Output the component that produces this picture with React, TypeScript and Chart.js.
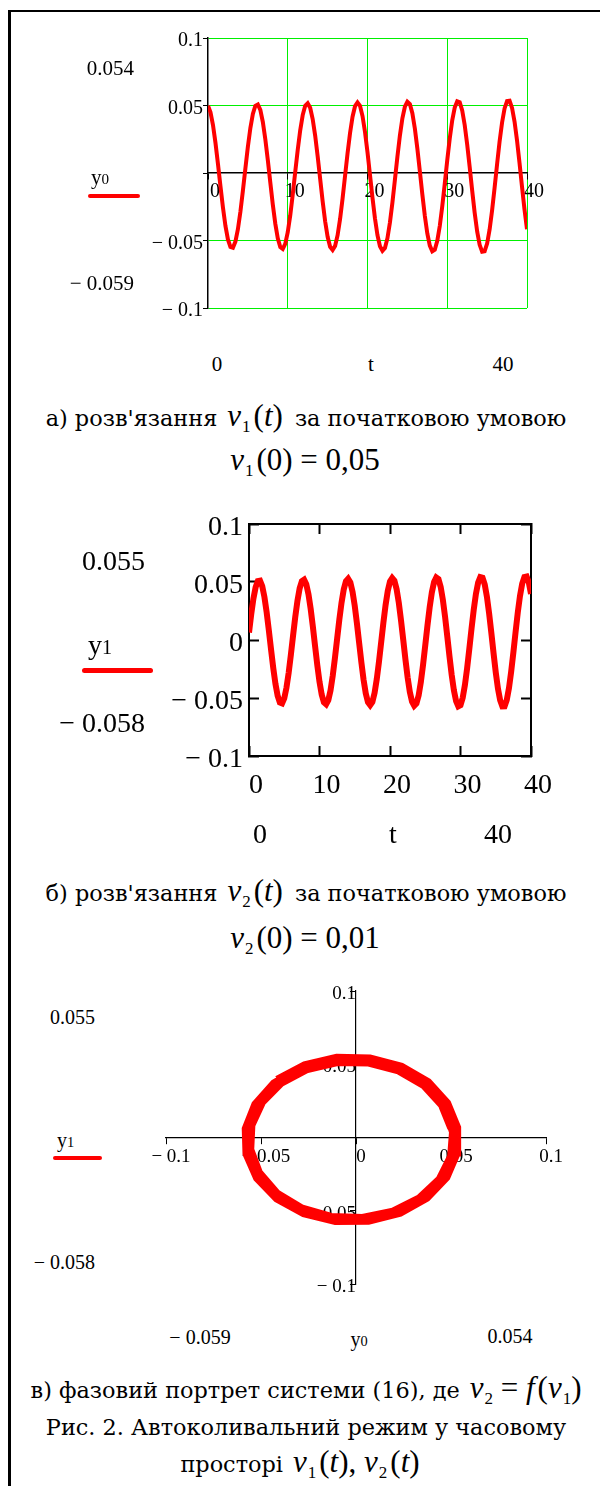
import React, { useEffect, useRef } from 'react';
import { Chart, registerables } from 'chart.js';

Chart.register(...registerables);

// time samples (s)
const T = [
  0, 0.3125, 0.625, 0.9375, 1.25, 1.5625, 1.875, 2.1875, 2.5, 2.8125,
  3.125, 3.4375, 3.75, 4.0625, 4.375, 4.6875, 5, 5.3125, 5.625, 5.9375,
  6.25, 6.5625, 6.875, 7.1875, 7.5, 7.8125, 8.125, 8.4375, 8.75, 9.0625,
  9.375, 9.6875, 10, 10.3125, 10.625, 10.9375, 11.25, 11.5625, 11.875, 12.1875,
  12.5, 12.8125, 13.125, 13.4375, 13.75, 14.0625, 14.375, 14.6875, 15, 15.3125,
  15.625, 15.9375, 16.25, 16.5625, 16.875, 17.1875, 17.5, 17.8125, 18.125, 18.4375,
  18.75, 19.0625, 19.375, 19.6875, 20, 20.3125, 20.625, 20.9375, 21.25, 21.5625,
  21.875, 22.1875, 22.5, 22.8125, 23.125, 23.4375, 23.75, 24.0625, 24.375, 24.6875,
  25, 25.3125, 25.625, 25.9375, 26.25, 26.5625, 26.875, 27.1875, 27.5, 27.8125,
  28.125, 28.4375, 28.75, 29.0625, 29.375, 29.6875, 30, 30.3125, 30.625, 30.9375,
  31.25, 31.5625, 31.875, 32.1875, 32.5, 32.8125, 33.125, 33.4375, 33.75, 34.0625,
  34.375, 34.6875, 35, 35.3125, 35.625, 35.9375, 36.25, 36.5625, 36.875, 37.1875,
  37.5, 37.8125, 38.125, 38.4375, 38.75, 39.0625, 39.375, 39.6875, 40,
];

// y0 = v1(t)
const Y0 = [
  0.0499, 0.0450, 0.0355, 0.0223, 0.0067, -0.0098, -0.0256, -0.0392, -0.0492, -0.0548,
  -0.0554, -0.0508, -0.0416, -0.0287, -0.0131, 0.0034, 0.0194, 0.0333, 0.0438, 0.0498,
  0.0508, 0.0467, 0.0378, 0.0250, 0.0096, -0.0071, -0.0233, -0.0375, -0.0484, -0.0548,
  -0.0562, -0.0525, -0.0439, -0.0314, -0.0160, 0.0007, 0.0171, 0.0316, 0.0429, 0.0498,
  0.0516, 0.0483, 0.0400, 0.0277, 0.0124, -0.0043, -0.0209, -0.0357, -0.0473, -0.0547,
  -0.0570, -0.0540, -0.0461, -0.0340, -0.0189, -0.0021, 0.0146, 0.0297, 0.0417, 0.0495,
  0.0523, 0.0498, 0.0422, 0.0304, 0.0153, -0.0015, -0.0184, -0.0337, -0.0461, -0.0543,
  -0.0576, -0.0555, -0.0483, -0.0367, -0.0218, -0.0050, 0.0121, 0.0277, 0.0405, 0.0491,
  0.0528, 0.0511, 0.0443, 0.0330, 0.0182, 0.0014, -0.0157, -0.0317, -0.0448, -0.0538,
  -0.0580, -0.0568, -0.0503, -0.0393, -0.0247, -0.0079, 0.0094, 0.0256, 0.0390, 0.0485,
  0.0531, 0.0524, 0.0463, 0.0356, 0.0211, 0.0044, -0.0130, -0.0294, -0.0433, -0.0532,
  -0.0583, -0.0579, -0.0523, -0.0418, -0.0276, -0.0109, 0.0066, 0.0233, 0.0374, 0.0478,
  0.0533, 0.0535, 0.0482, 0.0381, 0.0240, 0.0074, -0.0102, -0.0271, -0.0416,
];

// y1 = v2(t)
const Y1 = [
  0.0064, 0.0221, 0.0356, 0.0454, 0.0508, 0.0512, 0.0464, 0.0371, 0.0240, 0.0084,
  -0.0081, -0.0240, -0.0378, -0.0480, -0.0539, -0.0546, -0.0503, -0.0412, -0.0283, -0.0129,
  0.0037, 0.0199, 0.0339, 0.0446, 0.0508, 0.0520, 0.0481, 0.0394, 0.0267, 0.0113,
  -0.0054, -0.0217, -0.0361, -0.0471, -0.0538, -0.0554, -0.0519, -0.0435, -0.0310, -0.0157,
  0.0010, 0.0175, 0.0322, 0.0436, 0.0507, 0.0528, 0.0497, 0.0416, 0.0294, 0.0142,
  -0.0026, -0.0192, -0.0342, -0.0460, -0.0536, -0.0561, -0.0534, -0.0457, -0.0337, -0.0186,
  -0.0018, 0.0150, 0.0302, 0.0424, 0.0504, 0.0534, 0.0511, 0.0438, 0.0320, 0.0170,
  0.0003, -0.0167, -0.0322, -0.0448, -0.0532, -0.0567, -0.0548, -0.0478, -0.0363, -0.0215,
  -0.0047, 0.0124, 0.0282, 0.0411, 0.0500, 0.0539, 0.0525, 0.0458, 0.0346, 0.0199,
  0.0032, -0.0141, -0.0301, -0.0434, -0.0527, -0.0571, -0.0561, -0.0498, -0.0389, -0.0244,
  -0.0076, 0.0097, 0.0260, 0.0397, 0.0494, 0.0542, 0.0537, 0.0478, 0.0372, 0.0228,
  0.0061, -0.0113, -0.0279, -0.0419, -0.0520, -0.0573, -0.0572, -0.0517, -0.0415, -0.0273,
  -0.0106, 0.0069, 0.0237, 0.0380, 0.0486, 0.0543, 0.0547, 0.0497, 0.0397,
];

const TIME_TICKS = [0, 10, 20, 30, 40];
const AMP_TICKS = [-0.1, -0.05, 0, 0.05, 0.1];
const PHASE_TICKS = [-0.1, -0.05, 0, 0.05, 0.1];

const SERIF = '"Liberation Serif", "Times New Roman", serif';
const CAP = '"DejaVu Serif", serif';
const RED = '#ff0000';
const GREEN = '#00f000';

function fmt(v: number): string {
  if (Math.abs(v) < 1e-12) return '0';
  return v < 0 ? '\u2212 ' + String(Math.abs(v)) : String(v);
}

function setTicks(list: number[]) {
  return (s: any) => {
    s.ticks = list.map((v) => ({ value: v }));
  };
}

function makeA(canvas: HTMLCanvasElement) {
  return new Chart(canvas, {
    type: 'scatter',
    data: {
      datasets: [
        {
          data: T.map((t, i) => ({ x: t, y: Y0[i] })),
          showLine: true,
          borderColor: RED,
          backgroundColor: RED,
          borderWidth: 4,
          pointRadius: 0,
          tension: 0,
          xAxisID: 'x',
          yAxisID: 'y',
        },
      ],
    },
    options: {
      animation: false,
      responsive: false,
      events: [],
      layout: { padding: { left: 0, right: 33, top: 18, bottom: 22 } },
      plugins: { legend: { display: false }, tooltip: { enabled: false } },
      scales: {
        // vertical green grid
        xg: {
          type: 'linear',
          position: 'top',
          min: 0,
          max: 40,
          afterBuildTicks: setTicks(TIME_TICKS),
          afterFit: (s: any) => {
            s.height = 0;
          },
          grid: {
            color: (c: any) => (c.index === 0 ? 'rgba(0,0,0,0)' : GREEN),
            lineWidth: 1,
            drawTicks: false,
            drawOnChartArea: true,
          },
          border: { display: false },
          ticks: { display: false },
        },
        x: {
          type: 'linear',
          position: { y: 0 } as any,
          min: 0,
          max: 40,
          afterBuildTicks: setTicks(TIME_TICKS),
          grid: {
            drawOnChartArea: false,
            drawTicks: true,
            tickLength: 6,
            tickColor: '#000',
            tickWidth: 1,
          },
          border: { display: true, color: '#000', width: 1.5 },
          ticks: {
            color: '#000',
            font: { family: SERIF, size: 20 },
            padding: 1,
            labelOffset: 7,
            maxRotation: 0,
            autoSkip: false,
            callback: (v: any) => String(v),
          },
        },
        y: {
          type: 'linear',
          position: 'left',
          min: -0.1,
          max: 0.1,
          afterBuildTicks: setTicks(AMP_TICKS),
          afterFit: (s: any) => {
            s.width = 108;
          },
          grid: {
            color: (c: any) => (c.tick && c.tick.value === 0 ? 'rgba(0,0,0,0)' : GREEN),
            lineWidth: 1,
            tickLength: 5,
            tickColor: '#000',
          },
          border: { display: true, color: '#000', width: 1.5 },
          ticks: {
            color: '#000',
            font: { family: SERIF, size: 20 },
            padding: 0,
            labelOffset: 3,
            autoSkip: false,
            callback: (v: any) => (Number(v) === 0 ? '' : fmt(Number(v))),
          },
        },
      },
    },
  } as any);
}

function makeB(canvas: HTMLCanvasElement) {
  const inward = (len: number) => ({
    drawOnChartArea: false,
    drawTicks: true,
    tickLength: len,
    tickColor: '#000',
    tickWidth: 2,
  });
  return new Chart(canvas, {
    type: 'scatter',
    data: {
      datasets: [
        {
          data: T.map((t, i) => ({ x: t, y: Y1[i] })),
          showLine: true,
          borderColor: RED,
          backgroundColor: RED,
          borderWidth: 6,
          pointRadius: 0,
          tension: 0,
          xAxisID: 'x',
          yAxisID: 'y',
        },
      ],
    },
    options: {
      animation: false,
      responsive: false,
      events: [],
      layout: { padding: { left: 0, right: 49, top: 34, bottom: 14 } },
      plugins: { legend: { display: false }, tooltip: { enabled: false } },
      scales: {
        x: {
          type: 'linear',
          position: 'bottom',
          min: 0,
          max: 40,
          afterBuildTicks: setTicks(TIME_TICKS),
          afterFit: (s: any) => {
            s.height = 50;
          },
          grid: inward(-10),
          border: { display: true, color: '#000', width: 2 },
          ticks: {
            color: '#000',
            font: { family: SERIF, size: 28 },
            padding: 23,
            labelOffset: 7,
            maxRotation: 0,
            autoSkip: false,
            callback: (v: any) => String(v),
          },
        },
        x2: {
          type: 'linear',
          position: 'top',
          min: 0,
          max: 40,
          afterBuildTicks: setTicks(TIME_TICKS),
          afterFit: (s: any) => {
            s.height = 0;
          },
          grid: inward(-10),
          border: { display: true, color: '#000', width: 2 },
          ticks: { display: false },
        },
        y: {
          type: 'linear',
          position: 'left',
          min: -0.1,
          max: 0.1,
          afterBuildTicks: setTicks(AMP_TICKS),
          afterFit: (s: any) => {
            s.width = 129;
          },
          grid: inward(-10),
          border: { display: true, color: '#000', width: 2 },
          ticks: {
            color: '#000',
            font: { family: SERIF, size: 28 },
            padding: 16,
            labelOffset: 4,
            autoSkip: false,
            callback: (v: any) => fmt(Number(v)),
          },
        },
        y2: {
          type: 'linear',
          position: 'right',
          min: -0.1,
          max: 0.1,
          afterBuildTicks: setTicks(AMP_TICKS),
          afterFit: (s: any) => {
            s.width = 0;
          },
          grid: inward(-10),
          border: { display: true, color: '#000', width: 2 },
          ticks: { display: false },
        },
      },
    },
  } as any);
}

function makeC(canvas: HTMLCanvasElement) {
  return new Chart(canvas, {
    type: 'scatter',
    data: {
      datasets: [
        {
          data: T.map((_, i) => ({ x: Y0[i], y: Y1[i] })),
          showLine: true,
          borderColor: RED,
          backgroundColor: RED,
          borderWidth: 7,
          pointRadius: 0,
          tension: 0,
        },
      ],
    },
    options: {
      animation: false,
      responsive: false,
      events: [],
      layout: { padding: { left: 26, right: 34, top: 21, bottom: 26 } },
      plugins: { legend: { display: false }, tooltip: { enabled: false } },
      scales: {
        x: {
          type: 'linear',
          position: { y: 0 } as any,
          min: -0.1,
          max: 0.1,
          afterBuildTicks: setTicks(PHASE_TICKS),
          grid: {
            drawOnChartArea: false,
            drawTicks: true,
            tickLength: 6,
            tickColor: '#000',
          },
          border: { display: true, color: '#000', width: 1.2 },
          ticks: {
            color: '#000',
            font: { family: SERIF, size: 19 },
            padding: 2,
            labelOffset: 5,
            maxRotation: 0,
            autoSkip: false,
            callback: (v: any) => fmt(Number(v)),
          },
        },
        y: {
          type: 'linear',
          position: { x: 0 } as any,
          min: -0.1,
          max: 0.1,
          afterBuildTicks: setTicks(PHASE_TICKS),
          grid: {
            drawOnChartArea: false,
            drawTicks: true,
            tickLength: 5,
            tickColor: '#000',
          },
          border: { display: true, color: '#000', width: 1.2 },
          ticks: {
            color: '#000',
            font: { family: SERIF, size: 19 },
            padding: 0,
            labelOffset: 3,
            autoSkip: false,
            callback: (v: any) => (Number(v) === 0 ? '' : fmt(Number(v))),
          },
        },
      },
    },
  } as any);
}

function ChartBox(props: {
  left: number;
  top: number;
  width: number;
  height: number;
  make: (c: HTMLCanvasElement) => Chart;
}) {
  const ref = useRef<HTMLCanvasElement>(null);
  useEffect(() => {
    const chart = props.make(ref.current as HTMLCanvasElement);
    return () => chart.destroy();
  }, []);
  return (
    <div style={{ position: 'absolute', left: props.left, top: props.top, width: props.width, height: props.height }}>
      <canvas
        ref={ref}
        width={props.width}
        height={props.height}
        style={{ width: props.width, height: props.height, display: 'block' }}
      />
    </div>
  );
}

function Txt(props: {
  x: number;
  y: number;
  size: number;
  align?: 'left' | 'center' | 'right';
  family?: string;
  children: React.ReactNode;
}) {
  const a = props.align || 'center';
  const tx = a === 'center' ? '-50%' : a === 'right' ? '-100%' : '0';
  return (
    <div
      style={{
        position: 'absolute',
        left: props.x,
        top: props.y,
        transform: `translate(${tx}, -50%)`,
        fontFamily: props.family || SERIF,
        fontSize: props.size,
        lineHeight: 1,
        whiteSpace: 'pre',
        color: '#000',
      }}
    >
      {props.children}
    </div>
  );
}

function RedBar(props: { x: number; y: number; w: number; h: number }) {
  return (
    <div
      style={{
        position: 'absolute',
        left: props.x,
        top: props.y,
        width: props.w,
        height: props.h,
        background: RED,
        borderRadius: props.h / 2,
      }}
    />
  );
}

function YName(props: { n: string; size: number }) {
  return (
    <span>
      y<span style={{ fontSize: props.size * 0.72 }}>{props.n}</span>
    </span>
  );
}

const MSIZE = 31;
const SUB = 17;
function Sub(props: { n: string }) {
  return (
    <span style={{ fontStyle: 'normal', fontSize: SUB, position: 'relative', top: 6, marginLeft: 1 }}>{props.n}</span>
  );
}
function Vs(props: { n: string }) {
  return (
    <span style={{ fontFamily: SERIF, fontSize: MSIZE }}>
      <i>v</i>
      <Sub n={props.n} />
    </span>
  );
}
function M(props: { children: React.ReactNode }) {
  return <span style={{ fontFamily: SERIF, fontSize: MSIZE }}>{props.children}</span>;
}
function P(props: { children: React.ReactNode }) {
  return (
    <span style={{ fontFamily: SERIF, fontSize: MSIZE, marginLeft: 3 }}>
      ({props.children})
    </span>
  );
}
function Gap(props: { w: number }) {
  return <span style={{ display: 'inline-block', width: props.w }} />;
}

function CapLine(props: { x: number; y: number; size?: number; children: React.ReactNode }) {
  return (
    <div
      style={{
        position: 'absolute',
        left: props.x,
        top: props.y,
        transform: 'translate(-50%, -50%)',
        fontFamily: CAP,
        fontSize: props.size || 22.4,
        lineHeight: '34px',
        whiteSpace: 'pre',
        color: '#000',
      }}
    >
      {props.children}
    </div>
  );
}

export default function App() {
  return (
    <div style={{ position: 'absolute', left: 0, top: 0, width: 600, height: 1486, background: '#fff', overflow: 'hidden' }}>
      {/* frame */}
      <div style={{ position: 'absolute', left: 8, top: 10, width: 3, height: 1476, background: '#000' }} />
      <div style={{ position: 'absolute', left: 8, top: 10, width: 592, height: 2, background: '#000' }} />

      {/* chart a */}
      <ChartBox left={100} top={20} width={460} height={310} make={makeA} />
      <Txt x={134} y={68} size={21} align="right">0.054</Txt>
      <Txt x={91} y={177} size={21} align="left"><YName n="0" size={21} /></Txt>
      <RedBar x={88} y={194} w={52} h={4} />
      <Txt x={134} y={283} size={21} align="right">{'\u2212 0.059'}</Txt>
      <Txt x={217} y={364} size={21}>0</Txt>
      <Txt x={371} y={364} size={21}>t</Txt>
      <Txt x={503} y={364} size={21}>40</Txt>

      <CapLine x={306} y={418}>
        {'а) розв\'язання'}<Gap w={10} /><Vs n="1" /><P><i>t</i></P><Gap w={12} />{'за початковою умовою'}
      </CapLine>
      <CapLine x={305} y={462}>
        <Vs n="1" /><P>0</P><M>{' = 0,05'}</M>
      </CapLine>

      {/* chart b */}
      <ChartBox left={120} top={490} width={460} height={330} make={makeB} />
      <Txt x={145} y={561} size={28} align="right">0.055</Txt>
      <Txt x={88} y={645} size={28} align="left"><YName n="1" size={28} /></Txt>
      <RedBar x={82} y={668} w={71} h={5} />
      <Txt x={145} y={723} size={28} align="right">{'\u2212 0.058'}</Txt>
      <Txt x={260} y={834} size={28}>0</Txt>
      <Txt x={393} y={834} size={28}>t</Txt>
      <Txt x={498} y={834} size={28}>40</Txt>

      <CapLine x={306} y={893}>
        {'б) розв\'язання'}<Gap w={10} /><Vs n="2" /><P><i>t</i></P><Gap w={12} />{'за початковою умовою'}
      </CapLine>
      <CapLine x={305} y={940}>
        <Vs n="2" /><P>0</P><M>{' = 0,01'}</M>
      </CapLine>

      {/* chart c */}
      <ChartBox left={140} top={970} width={440} height={340} make={makeC} />
      <Txt x={95} y={1017} size={20} align="right">0.055</Txt>
      <Txt x={57} y={1140} size={20} align="left"><YName n="1" size={20} /></Txt>
      <RedBar x={53} y={1156} w={49} h={4} />
      <Txt x={95} y={1262} size={20} align="right">{'\u2212 0.058'}</Txt>
      <Txt x={200} y={1337} size={20}>{'\u2212 0.059'}</Txt>
      <Txt x={359} y={1339} size={20}><YName n="0" size={20} /></Txt>
      <Txt x={510} y={1336} size={20}>0.054</Txt>

      <CapLine x={306} y={1390}>
        {'в) фазовий портрет системи (16), де'}<Gap w={10} /><Vs n="2" /><M>{' = '}<i>f</i></M><P><i>v</i><Sub n="1" /></P>
      </CapLine>
      <CapLine x={306} y={1427}>
        {'Рис. 2. Автоколивальний режим у часовому'}
      </CapLine>
      <CapLine x={300} y={1464}>
        {'просторі'}<Gap w={10} /><Vs n="1" /><P><i>t</i></P><M>{', '}</M><Vs n="2" /><P><i>t</i></P>
      </CapLine>
    </div>
  );
}
